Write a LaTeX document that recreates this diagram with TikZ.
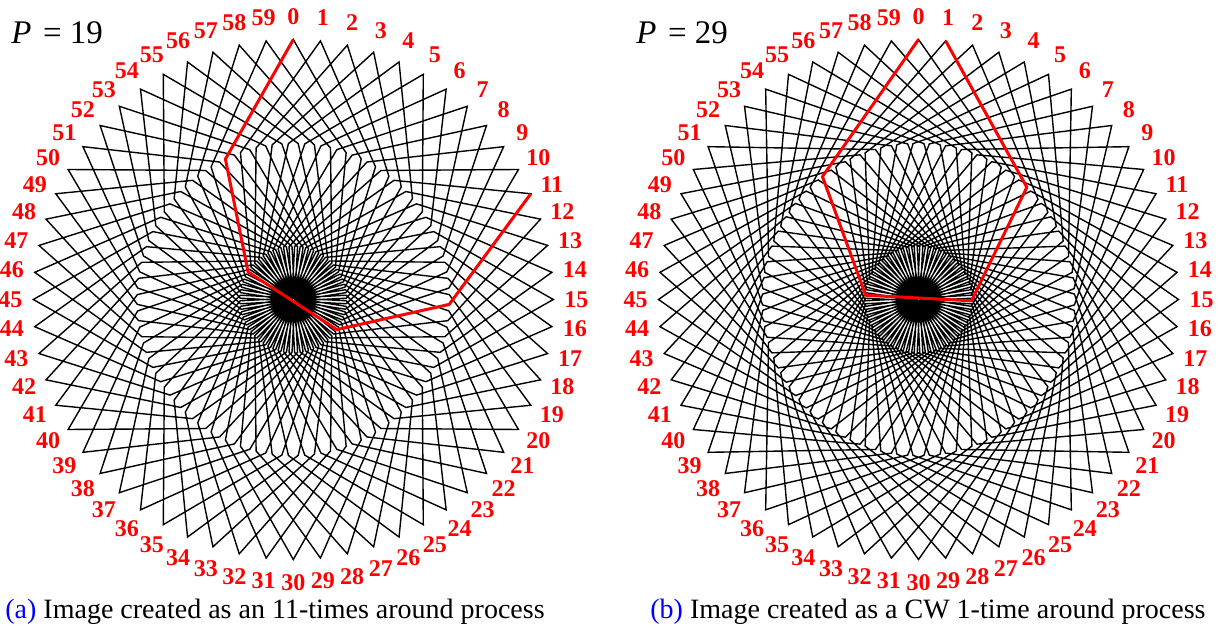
\documentclass[tikz,border=0pt]{standalone}
\usepackage{fontspec}
\setmainfont{Liberation Serif}
\usetikzlibrary{positioning}

\begin{document}
\begin{tikzpicture}[x=0.5pt,y=0.5pt,
  mesh/.style={line width=0.7pt, line join=miter},
  redpath/.style={draw=red, line width=1.5pt, line join=round},
  numlab/.style={text=red, font={\fontsize{12}{12}\selectfont\bfseries}, inner sep=0pt},
  ptitle/.style={font={\fontsize{16.5}{16.5}\selectfont}, anchor=west, inner sep=0pt},
  capt/.style={font={\fontsize{14}{14}\selectfont}, anchor=west, inner sep=0pt}
]
\useasboundingbox (0,0) rectangle (1231,-635);

% (a) P = 19, 11 times around
\begin{scope}[shift={(293.3,-299.5)}]
  \draw[mesh] (90:260)
    \foreach \j in {0,...,59}{
      -- ({90-66*\j+25.8}:156) -- ({90-66*\j+58.6}:53)
      -- ({90-66*\j-124.6}:53) -- ({90-66*\j-91.8}:156)
      -- ({90-66*\j-66}:260)
    } -- cycle;
  \coordinate (a0) at (90:260);
  \coordinate (a1) at (115.8:156);
  \coordinate (a2) at (148.6:53);
  \coordinate (a3) at (-34.6:53);
  \coordinate (a4) at (-1.8:156);
  \coordinate (a5) at (24:260);
  \draw[redpath] (a0) -- (a1) -- (a2) -- (a3) -- (a4) -- (a5);
  \foreach \k in {0,...,59}
    \node[numlab] (la\k) at ({90-6*\k}:283) {\k};
\end{scope}
\node[ptitle] (pa) at (11,-33) {\textit{P}\hspace{0.35em}= 19};

% (b) P = 29, CW 1 time around
\begin{scope}[shift={(918.5,-299.5)}]
  \draw[mesh] (90:260)
    \foreach \j in {0,...,59}{
      -- ({90-6*\j+38}:156) -- ({90-6*\j+85.4}:53)
      -- ({90-6*\j-91.4}:53) -- ({90-6*\j-44}:156)
      -- ({90-6*\j-6}:260)
    } -- cycle;
  \coordinate (b0) at (90:260);
  \coordinate (b1) at (128:156);
  \coordinate (b2) at (175.4:53);
  \coordinate (b3) at (-1.4:53);
  \coordinate (b4) at (46:156);
  \coordinate (b5) at (84:260);
  \draw[redpath] (b0) -- (b1) -- (b2) -- (b3) -- (b4) -- (b5);
  \foreach \k in {0,...,59}
    \node[numlab] (lb\k) at ({90-6*\k}:283) {\k};
\end{scope}
\node[ptitle] (pb) at (636,-33) {\textit{P}\hspace{0.35em}= 29};

% captions
\node[capt] (capa) at (5,-612) {\textcolor{blue}{(a)} Image created as an 11-times around process};
\node[capt] (capb) at (650,-612) {\textcolor{blue}{(b)} Image created as a CW 1-time around process};
\end{tikzpicture}
\end{document}
